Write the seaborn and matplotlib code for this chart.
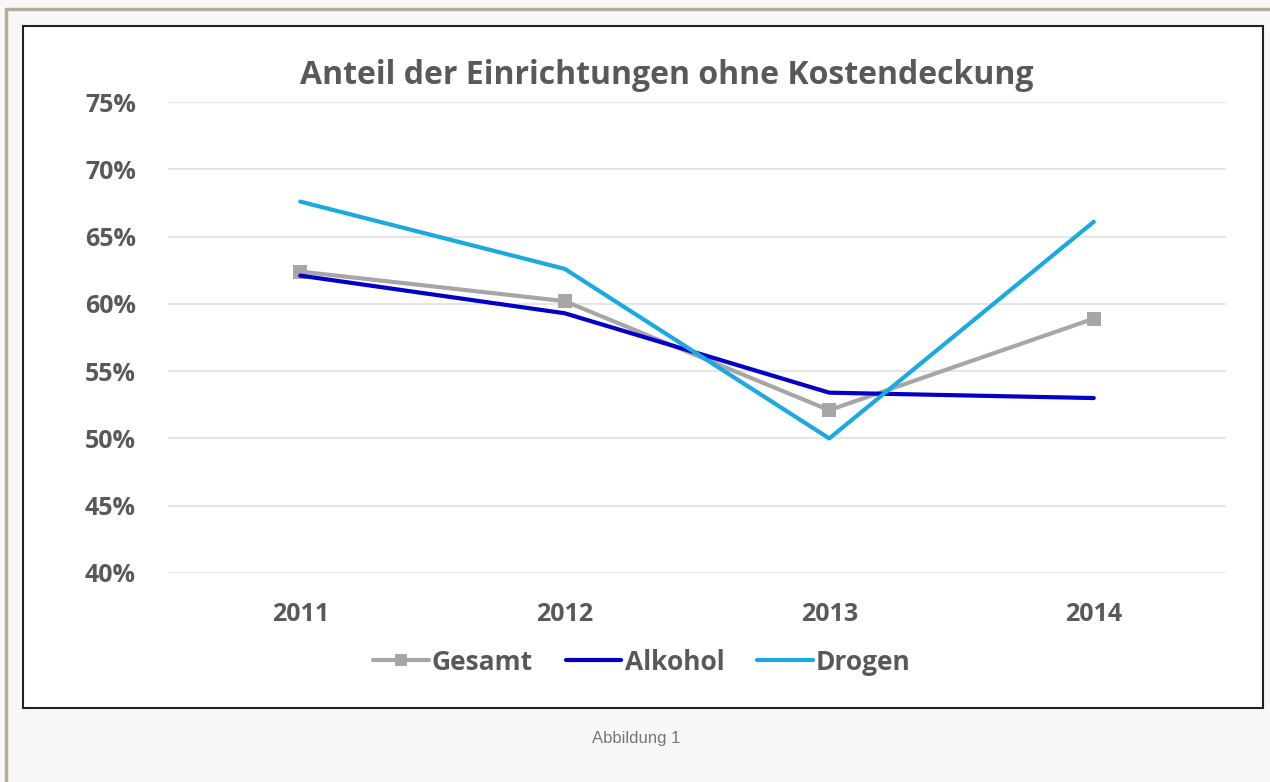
import matplotlib
matplotlib.use("Agg")
import matplotlib.pyplot as plt
from matplotlib.patches import Rectangle
from matplotlib.lines import Line2D
import pandas as pd
import seaborn as sns

years = ["2011", "2012", "2013", "2014"]
gesamt = [0.624, 0.602, 0.521, 0.589]
alkohol = [0.621, 0.593, 0.534, 0.530]
drogen = [0.676, 0.626, 0.500, 0.661]
series_names = ["Gesamt", "Alkohol", "Drogen"]
y_ticks = [0.40, 0.45, 0.50, 0.55, 0.60, 0.65, 0.70, 0.75]

colors = {"Gesamt": "#a6a6a6", "Alkohol": "#0000c8", "Drogen": "#1aa9e0"}

df = pd.DataFrame({
    "Jahr": years * 3,
    "Anteil": gesamt + alkohol + drogen,
    "Reihe": [n for n in series_names for _ in years],
})
df["x"] = df["Jahr"].map({y: i for i, y in enumerate(years)})

sns.set_style("white")
plt.rcParams["font.family"] = ["Open Sans", "DejaVu Sans"]

W, H = 1270, 782
fig = plt.figure(figsize=(W / 100, H / 100), dpi=100)
fig.patch.set_facecolor("#f7f7f7")

# page frame and white chart box (behind the axes)
fig.add_artist(Line2D([6 / W, 1], [1 - 9 / H, 1 - 9 / H], color="#b8ab9c", lw=2.5, zorder=-2))
fig.add_artist(Line2D([6 / W, 6 / W], [0, 1 - 9 / H], color="#b8ab9c", lw=2.5, zorder=-2))
fig.add_artist(Rectangle((23 / W, 1 - 708 / H), (1263 - 23) / W, (708 - 26) / H,
                         facecolor="white", edgecolor="#222222", lw=1.5, zorder=-1))

ax = fig.add_axes([168 / W, 1 - 573 / H, (1226 - 168) / W, (573 - 102) / H])
ax.set_facecolor("none")

for name in series_names:
    sub = df[df["Reihe"] == name]
    sns.lineplot(data=sub, x="x", y="Anteil", ax=ax, color=colors[name],
                 lw=3, marker="s" if name == "Gesamt" else None,
                 markersize=10, markeredgewidth=0, legend=False, zorder=3)

ax.set_xlim(-0.5, len(years) - 0.5)
ax.set_ylim(0.40, 0.75)
ax.set_xticks(range(len(years)))
ax.set_xticklabels(years)
ax.set_yticks(y_ticks)
ax.set_yticklabels([f"{int(round(t * 100))}%" for t in y_ticks])
ax.grid(axis="y", color="#e6e6e6", lw=1.5)
ax.set_axisbelow(True)
for s in ax.spines.values():
    s.set_visible(False)
ax.tick_params(axis="both", length=0, labelsize=18, labelcolor="#595959")
ax.tick_params(axis="y", pad=23)
ax.tick_params(axis="x", pad=21)
for lab in ax.get_xticklabels() + ax.get_yticklabels():
    lab.set_fontweight("bold")
ax.set_xlabel("")
ax.set_ylabel("")

fig.text(667 / W, 1 - 75 / H, "Anteil der Einrichtungen ohne Kostendeckung",
         ha="center", va="center", fontsize=23, fontweight="bold", color="#595959")

handles = [Line2D([], [], color=colors[n], lw=3,
                  marker="s" if n == "Gesamt" else None, markersize=9, markeredgewidth=0)
           for n in series_names]
leg = fig.legend(handles, series_names, loc="center", bbox_to_anchor=(642 / W, 1 - 662 / H),
                 ncol=3, frameon=False, handlelength=2.1, handletextpad=0.12,
                 columnspacing=1.25, prop={"size": 19, "weight": "bold"})
for t in leg.get_texts():
    t.set_color("#595959")

fig.text(636 / W, 1 - 739 / H, "Abbildung 1", ha="center", va="center",
         fontsize=12, color="#777777", family="Liberation Sans")

fig.savefig("out.png", dpi=100, facecolor=fig.get_facecolor())
